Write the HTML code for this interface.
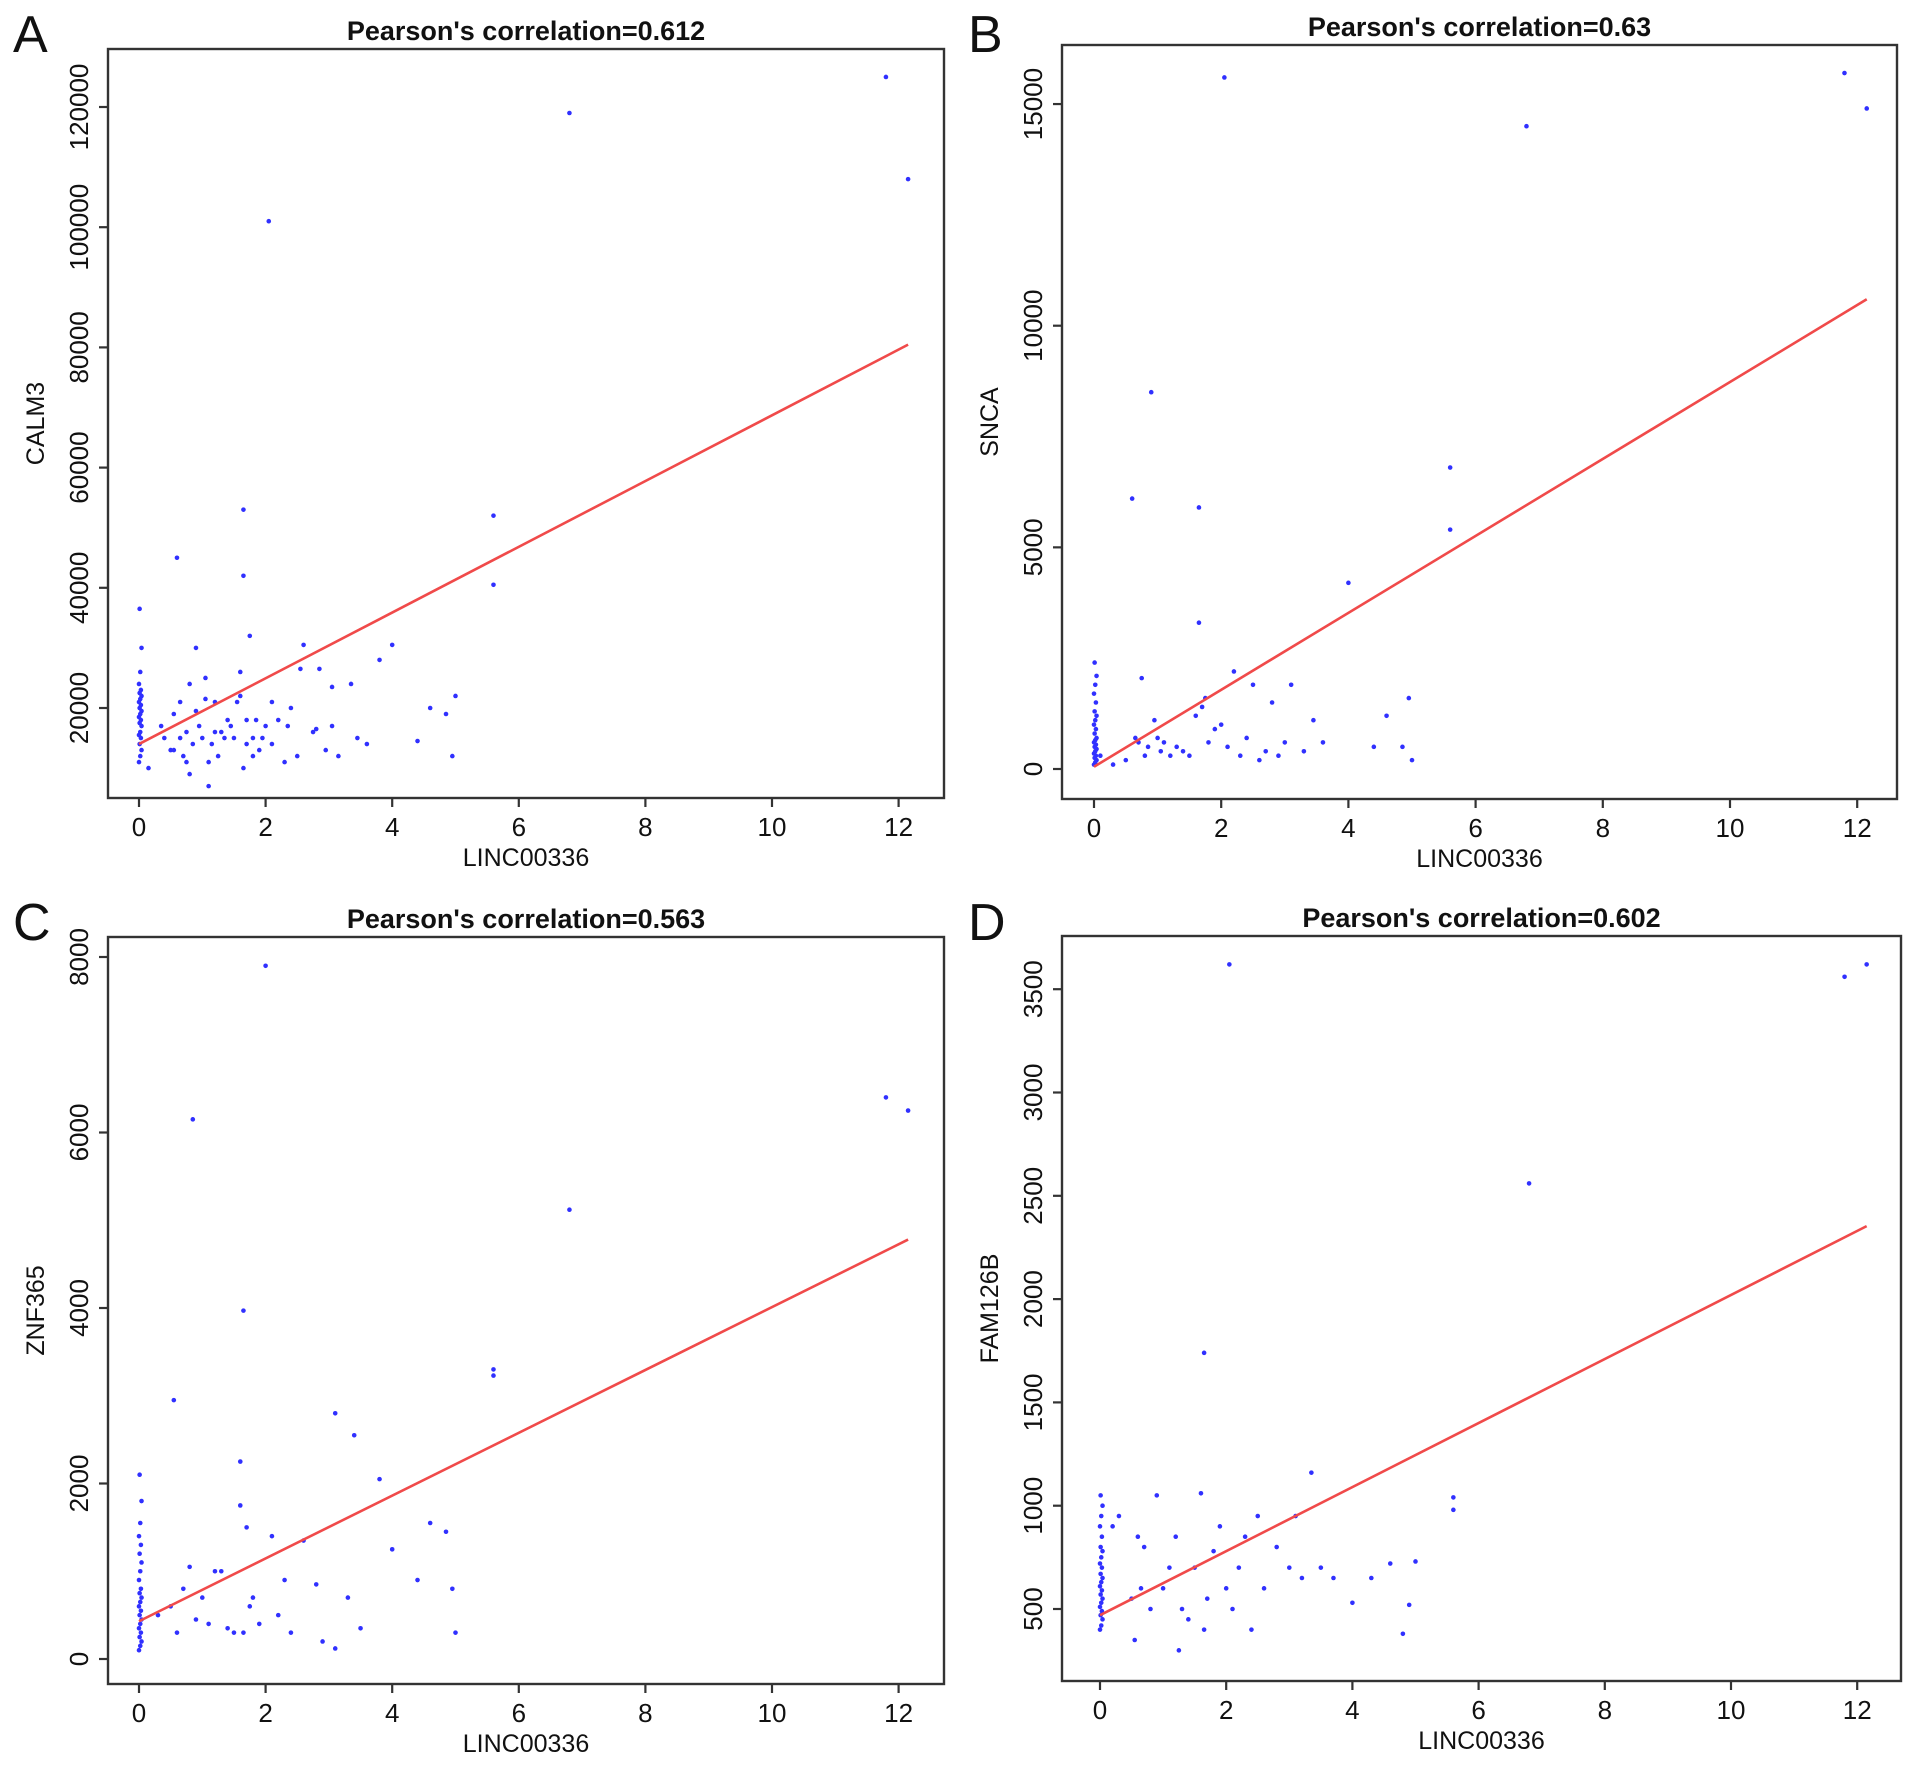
<!DOCTYPE html>
<html><head><meta charset="utf-8"><style>
html,body{margin:0;padding:0;background:#fff;}
svg{display:block;font-family:"Liberation Sans",Arial,sans-serif;}
</style></head><body>
<svg id="fig" width="1913" height="1769" viewBox="0 0 1913 1769" xmlns="http://www.w3.org/2000/svg"></svg>
<script>
// ---- data (LINC00336 vs gene expression) ----
const zeroX = [0,0.02,0.04,0.01,0.03,0,0.02,0.04,0.01,0.03,0,0.02,0.04,0.01,0.03,0,0.02,0.04,0.01,0.03,0,0.02,0.04,0.01];
const aZeroY = [11000,12000,13000,14000,15000,15500,16000,17000,17500,18000,18500,19000,19500,20000,20500,21000,21500,22000,22500,23000,24000,26000,30000,36500];
const aX = [0.15,0.35,0.4,0.5,0.55,0.55,0.6,0.65,0.65,0.7,0.75,0.75,0.8,0.8,0.85,0.9,0.9,0.95,1.0,1.05,1.05,1.1,1.1,1.15,1.2,1.2,1.25,1.3,1.35,1.4,1.45,1.5,1.55,1.6,1.6,1.65,1.65,1.65,1.7,1.7,1.75,1.8,1.8,1.85,1.9,1.95,2.0,2.05,2.1,2.1,2.2,2.3,2.35,2.4,2.5,2.55,2.6,2.75,2.8,2.85,2.95,3.05,3.05,3.15,3.35,3.45,3.6,3.8,4.0,4.4,4.6,4.85,4.95,5.0,5.6,5.6,6.8,11.8,12.15];
const aY = [10000,17000,15000,13000,13000,19000,45000,15000,21000,12000,11000,16000,24000,9000,14000,30000,19500,17000,15000,21500,25000,7000,11000,14000,16000,21000,12000,16000,15000,18000,17000,15000,21000,22000,26000,53000,42000,10000,14000,18000,32000,12000,15000,18000,13000,15000,17000,101000,14000,21000,18000,11000,17000,20000,12000,26500,30500,16000,16500,26500,13000,23500,17000,12000,24000,15000,14000,28000,30500,14500,20000,19000,12000,22000,52000,40500,119000,125000,108000];

const bZeroY = [100,150,200,250,300,350,400,450,500,550,600,650,700,800,900,1000,1100,1200,1300,1500,1700,1900,2100,2400];
const bX = [0.1,0.3,0.5,0.6,0.65,0.7,0.75,0.8,0.85,0.9,0.95,1.0,1.05,1.1,1.2,1.3,1.4,1.5,1.6,1.65,1.65,1.7,1.75,1.8,1.9,2.0,2.05,2.1,2.2,2.3,2.4,2.5,2.6,2.7,2.8,2.9,3.0,3.1,3.3,3.45,3.6,4.0,4.4,4.6,4.85,4.95,5.0,5.6,5.6,6.8,11.8,12.15];
const bY = [300,100,200,6100,700,600,2050,300,500,8500,1100,700,400,600,300,500,400,300,1200,3300,5900,1400,1600,600,900,1000,15600,500,2200,300,700,1900,200,400,1500,300,600,1900,400,1100,600,4200,500,1200,500,1600,200,6800,5400,14500,15700,14900];

const cZeroY = [100,150,200,250,300,350,400,450,500,550,600,650,700,750,800,900,1000,1100,1200,1300,1400,1550,1800,2100];
const cX = [0.3,0.5,0.55,0.6,0.7,0.8,0.85,0.9,1.0,1.1,1.2,1.3,1.4,1.5,1.6,1.6,1.65,1.65,1.7,1.75,1.8,1.9,2.0,2.1,2.2,2.3,2.4,2.6,2.8,2.9,3.1,3.1,3.3,3.4,3.5,3.8,4.0,4.4,4.6,4.85,4.95,5.0,5.6,5.6,6.8,11.8,12.15];
const cY = [500,600,2950,300,800,1050,6150,450,700,400,1000,1000,350,300,2250,1750,3970,300,1500,600,700,400,7900,1400,500,900,300,1350,850,200,2800,120,700,2550,350,2050,1250,900,1550,1450,800,300,3300,3230,5120,6400,6250];

const dZeroY = [400,420,450,470,490,510,530,550,570,590,610,630,650,670,700,720,750,780,800,850,900,950,1000,1050];
const dX = [0.2,0.3,0.5,0.55,0.6,0.65,0.7,0.8,0.9,1.0,1.1,1.2,1.25,1.3,1.4,1.5,1.6,1.65,1.65,1.7,1.8,1.9,2.0,2.05,2.1,2.2,2.3,2.4,2.5,2.6,2.8,3.0,3.1,3.2,3.35,3.5,3.7,4.0,4.3,4.6,4.8,4.9,5.0,5.6,5.6,6.8,11.8,12.15];
const dY = [900,950,550,350,850,600,800,500,1050,600,700,850,300,500,450,700,1060,1740,400,550,780,900,600,3620,500,700,850,400,950,600,800,700,950,650,1160,700,650,530,650,720,380,520,730,1040,980,2560,3560,3620];

const fitIntercept = [14000, 50, 430, 470];
const fitSlope = [5470, 868, 358, 155];
const titles = ["Pearson's correlation=0.612","Pearson's correlation=0.63","Pearson's correlation=0.563","Pearson's correlation=0.602"];
const yLabels = ["CALM3","SNCA","ZNF365","FAM126B"];
const panelLetters = ["A","B","C","D"];
const xTicks = [0,2,4,6,8,10,12];
const yTicksA = [20000,40000,60000,80000,100000,120000];
const yTicksB = [0,5000,10000,15000];
const yTicksC = [0,2000,4000,6000,8000];
const yTicksD = [500,1000,1500,2000,2500,3000,3500];

// ---- layout ----
const panels = [
 {box:[108,49,944,798], x0:139, xu:63.3, yv0:20000, yp0:708, ypu:120.2/20000, zx:zeroX, zy:aZeroY, xs:aX, ys:aY, yt:yTicksA, lx:13, ly:12},
 {box:[1062,45,1897,799], x0:1094, xu:63.6, yv0:0, yp0:769, ypu:44.33/1000, zx:zeroX, zy:bZeroY, xs:bX, ys:bY, yt:yTicksB, lx:968, ly:12},
 {box:[108,937,944,1684], x0:139, xu:63.3, yv0:0, yp0:1659, ypu:175.5/2000, zx:zeroX, zy:cZeroY, xs:cX, ys:cY, yt:yTicksC, lx:13, ly:900},
 {box:[1062,936,1901,1681], x0:1100, xu:63.1, yv0:500, yp0:1609, ypu:103.3/500, zx:zeroX, zy:dZeroY, xs:dX, ys:dY, yt:yTicksD, lx:968, ly:900}
];
const NS = "http://www.w3.org/2000/svg";
const svg = document.getElementById('fig');
function mk(tag, attrs, parent){const e=document.createElementNS(NS,tag);for(const k in attrs)e.setAttribute(k,attrs[k]);(parent||svg).appendChild(e);return e;}

panels.forEach((p,i)=>{
  const g = mk('g',{});
  
  
  const X = v => p.x0 + v*p.xu;
  const Y = v => p.yp0 - (v-p.yv0)*p.ypu;
  const [l,t,r,b] = p.box;
  const box = mk('rect',{x:l,y:t,width:r-l,height:b-t,fill:'none',stroke:'#333','stroke-width':2.4},g);
  
  
  const letter = mk('text',{x:p.lx,y:p.ly+40,'font-size':52,fill:'#111'},g);
  letter.textContent = panelLetters[i];
  
  
  const tt = mk('text',{x:(l+r)/2,y:t-9,'font-size':27,'font-weight':'bold','text-anchor':'middle',fill:'#111'},g);
  tt.textContent = titles[i];
  
  
  xTicks.forEach(v=>{
    mk('line',{x1:X(v),x2:X(v),y1:b,y2:b+9,stroke:'#333','stroke-width':2.2},g);
    const tl = mk('text',{x:X(v),y:b+38,'font-size':26,'text-anchor':'middle',fill:'#111'},g);
    tl.textContent = v;
    
    
  });
  p.yt.forEach(v=>{
    mk('line',{x1:l-9,x2:l,y1:Y(v),y2:Y(v),stroke:'#333','stroke-width':2.2},g);
    const yl = mk('text',{x:l-20,y:Y(v),'font-size':26,'text-anchor':'middle',fill:'#111',transform:`rotate(-90 ${l-20} ${Y(v)})`},g);
    yl.textContent = v;
    
    
  });
  const xt = mk('text',{x:(l+r)/2,y:b+68,'font-size':25,'text-anchor':'middle',fill:'#111'},g);
  xt.textContent = 'LINC00336';
  
  
  const yc = (t+b)/2;
  const yt = mk('text',{x:l-64,y:yc,'font-size':25,'text-anchor':'middle',fill:'#111',transform:`rotate(-90 ${l-64} ${yc})`},g);
  yt.textContent = yLabels[i];
  
  
  const pts = mk('g',{fill:'#3030ff'},g);
  
  
  p.zy.forEach((v,k)=>{
    const c = mk('circle',{cx:X(p.zx[k%p.zx.length]),cy:Y(v),r:2.3},pts);
    
    
  });
  p.xs.forEach((v,k)=>{
    const c = mk('circle',{cx:X(v),cy:Y(p.ys[k]),r:2.3},pts);
    
    
  });
  const xEnd = 12.15;
  const ln = mk('line',{x1:X(0),y1:Y(fitIntercept[i]),x2:X(xEnd),y2:Y(fitIntercept[i]+fitSlope[i]*xEnd),stroke:'#f04a4a','stroke-width':2.6},g);
  
  
});
</script>
</body></html>
